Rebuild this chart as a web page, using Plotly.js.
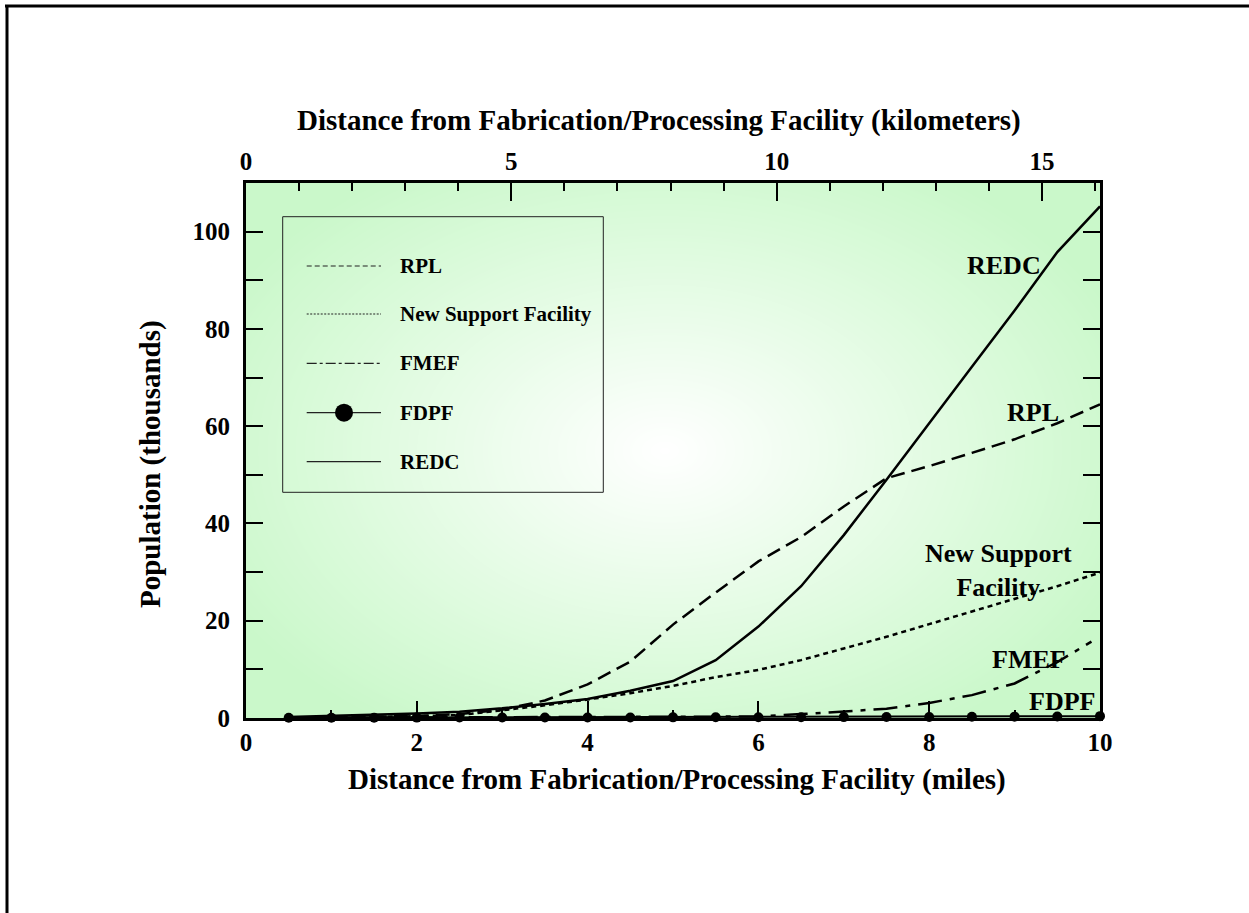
<!DOCTYPE html>
<html><head><meta charset="utf-8">
<script src="https://cdn.plot.ly/plotly-3.0.1.min.js"></script>
<style>html,body{margin:0;padding:0;background:#fff}#chart{width:1249px;height:913px}</style>
</head><body><div id="chart"></div>
<script>
// ---------- data ----------
const miles = [0.5,1,1.5,2,2.5,3,3.5,4,4.5,5,5.5,6,6.5,7,7.5,8,8.5,9,9.5,10];
const rpl   = [0.1,0.2,0.3,0.4,0.8,1.7,3.6,6.9,11.6,19.2,25.8,32.2,37.2,43.5,49.3,51.8,54.5,57.3,60.6,64.5];
const nsf   = [0.05,0.1,0.2,0.35,0.6,1.6,2.6,3.8,5.1,6.6,8.4,9.9,11.9,14.3,16.7,19.3,21.9,24.6,27.1,29.9];
const fmefMiles = [0.5,1,1.5,2,2.5,3,3.5,4,4.5,5,5.5,6,6.5,7,7.5,8,8.5,9,9.5,9.9];
const fmef  = [0.05,0.06,0.07,0.08,0.09,0.1,0.12,0.14,0.16,0.18,0.2,0.3,0.8,1.4,1.9,3.1,4.7,7.1,11.5,15.7];
const fdpf  = [0.05,0.06,0.07,0.08,0.09,0.1,0.1,0.11,0.12,0.13,0.14,0.15,0.17,0.18,0.2,0.22,0.25,0.28,0.32,0.38];
const redc  = [0.2,0.4,0.6,0.9,1.3,2.0,2.9,3.9,5.6,7.6,11.9,18.8,27.1,37.6,49.0,60.5,72.2,83.8,95.8,105.2];
const seriesNames = ['RPL','New Support Facility','FMEF','FDPF','REDC'];
const curveLabels = ['REDC','RPL','New Support<br>Facility','FMEF','FDPF'];
const curveLabelX = [8.87,9.22,8.81,9.17,9.55];
const curveLabelY = [93.1,62.8,30.4,12.0,3.4];
const KM_PER_MILE = 1.609344;
const maxMiles = 10;
const yMax = 110;
const titleTop = 'Distance from Fabrication/Processing Facility (kilometers)';
const titleBottom = 'Distance from Fabrication/Processing Facility (miles)';
const titleY = 'Population (thousands)';

// ---------- geometry / style ----------
const W = 1249, H = 913;
const M = {l:246, r:149, t:183, b:195};
const PW = W - M.l - M.r, PH = H - M.t - M.b;
const px = x => (x - M.l) / PW;
const py = y => (H - M.b - y) / PH;
const FF = '"Liberation Serif", "Times New Roman", serif';
const bold = (s) => ({family: FF, size: s, color: '#000', weight: 'bold'});

function gradientURL(w, h) {
  const c = document.createElement('canvas'); c.width = w; c.height = h;
  const ctx = c.getContext('2d'); const img = ctx.createImageData(w, h);
  const cx = w * 0.49, cy = h * 0.5, rx = w * 0.58, ry = h * 0.62;
  for (let y = 0; y < h; y++) for (let x = 0; x < w; x++) {
    const dx = (x - cx) / rx, dy = (y - cy) / ry;
    const d = Math.min(1, Math.sqrt(dx * dx + dy * dy));
    const i = (y * w + x) * 4;
    img.data[i] = Math.round(255 - (255 - 202) * d);
    img.data[i + 1] = Math.round(255 - (255 - 248) * d);
    img.data[i + 2] = Math.round(255 - (255 - 202) * d);
    img.data[i + 3] = 255;
  }
  ctx.putImageData(img, 0, 0);
  return c.toDataURL('image/png');
}

const traces = [
  {x: miles, y: rpl, name: seriesNames[0], mode: 'lines', line: {color: '#000', width: 2.5, dash: '14px,7px'}},
  {x: miles, y: nsf, name: seriesNames[1], mode: 'lines', line: {color: '#000', width: 2.5, dash: '5px,4px'}},
  {x: fmefMiles, y: fmef, name: seriesNames[2], mode: 'lines', line: {color: '#000', width: 2.5, dash: '24px,8px,5px,8px'}},
  {x: miles, y: redc, name: seriesNames[4], mode: 'lines', line: {color: '#000', width: 2.5}},
  {x: miles, y: fdpf, name: seriesNames[3], mode: 'lines+markers', cliponaxis: false,
   line: {color: '#000', width: 2}, marker: {color: '#000', size: 10}},
  {x: [0, maxMiles * KM_PER_MILE], y: [null, null], xaxis: 'x2', mode: 'lines', hoverinfo: 'skip'}
];

const shapes = [];
const annotations = [];
// outer frame (top and left)
shapes.push({type: 'line', xref: 'paper', yref: 'paper', x0: px(5), x1: px(W), y0: py(6), y1: py(6), line: {color: '#000', width: 3}});
shapes.push({type: 'line', xref: 'paper', yref: 'paper', x0: px(7), x1: px(7), y0: py(5), y1: py(H), line: {color: '#000', width: 3}});
// legend box
shapes.push({type: 'rect', xref: 'paper', yref: 'paper', x0: px(282.7), x1: px(603.3), y0: py(492.3), y1: py(216.7), line: {color: '#222', width: 1}});
const legRows = [266, 314, 363.3, 412.7, 461.7];
const legDash = ['5px,3px', '2px,1.5px', '10px,3px,3px,3px', 'solid', 'solid'];
seriesNames.forEach((n, i) => {
  shapes.push({type: 'line', xref: 'paper', yref: 'paper', x0: px(306.7), x1: px(381), y0: py(legRows[i]), y1: py(legRows[i]),
    line: {color: '#222', width: 1.2, dash: legDash[i]}});
  annotations.push({xref: 'paper', yref: 'paper', x: px(398.3), y: py(legRows[i]), xanchor: 'left', yanchor: 'middle',
    text: n, showarrow: false, font: bold(21)});
});
shapes.push({type: 'circle', xref: 'paper', yref: 'paper', xsizemode: 'pixel', ysizemode: 'pixel',
  xanchor: px(344), yanchor: py(legRows[3]), x0: -9, x1: 9, y0: -9, y1: 9, fillcolor: '#000', line: {width: 0}});

// curve labels
curveLabels.forEach((t, i) => annotations.push({xref: 'x', yref: 'y', x: curveLabelX[i], y: curveLabelY[i], text: t,
  showarrow: false, font: bold(26), xanchor: 'center', yanchor: 'middle'}));
// axis titles
annotations.push({xref: 'paper', yref: 'paper', x: px(659), y: py(121), text: titleTop, showarrow: false, font: bold(29), xanchor: 'center', yanchor: 'middle'});
annotations.push({xref: 'paper', yref: 'paper', x: px(677), y: py(779), text: titleBottom, showarrow: false, font: bold(29), xanchor: 'center', yanchor: 'middle'});
annotations.push({xref: 'paper', yref: 'paper', x: px(150), y: py(464), text: titleY, showarrow: false, font: bold(29), textangle: -90, xanchor: 'center', yanchor: 'middle'});

const axisCommon = {showline: true, linewidth: 3, linecolor: '#000', showgrid: false, zeroline: false,
  ticks: 'inside', ticklen: 17, tickwidth: 2, tickcolor: '#000', tickfont: bold(25), fixedrange: true};

const layout = {
  width: W, height: H, margin: M, showlegend: false,
  paper_bgcolor: '#fff', plot_bgcolor: 'rgba(0,0,0,0)',
  xaxis: Object.assign({}, axisCommon, {range: [0, maxMiles], tickmode: 'linear', tick0: 0, dtick: 2,
    minor: {dtick: 1, tick0: 0, ticks: 'inside', ticklen: 8, tickwidth: 2, tickcolor: '#000', showgrid: false}}),
  xaxis2: Object.assign({}, axisCommon, {range: [0, maxMiles * KM_PER_MILE], overlaying: 'x', side: 'top', anchor: 'y',
    tickmode: 'linear', tick0: 0, dtick: 5, ticklen: 18,
    minor: {dtick: 1, tick0: 0, ticks: 'inside', ticklen: 8, tickwidth: 2, tickcolor: '#000', showgrid: false}}),
  yaxis: Object.assign({}, axisCommon, {range: [0, yMax], tickmode: 'linear', tick0: 0, dtick: 20, mirror: 'allticks',
    ticklabelstandoff: 8,
    minor: {dtick: 10, tick0: 0, ticks: 'inside', ticklen: 8, tickwidth: 2, tickcolor: '#000', showgrid: false}}),
  images: [{source: gradientURL(PW, PH), xref: 'paper', yref: 'paper', x: 0, y: 1, sizex: 1, sizey: 1,
    xanchor: 'left', yanchor: 'top', sizing: 'stretch', layer: 'below'}],
  shapes: shapes, annotations: annotations
};

Plotly.newPlot('chart', traces, layout, {displayModeBar: false, staticPlot: true});
</script></body></html>
